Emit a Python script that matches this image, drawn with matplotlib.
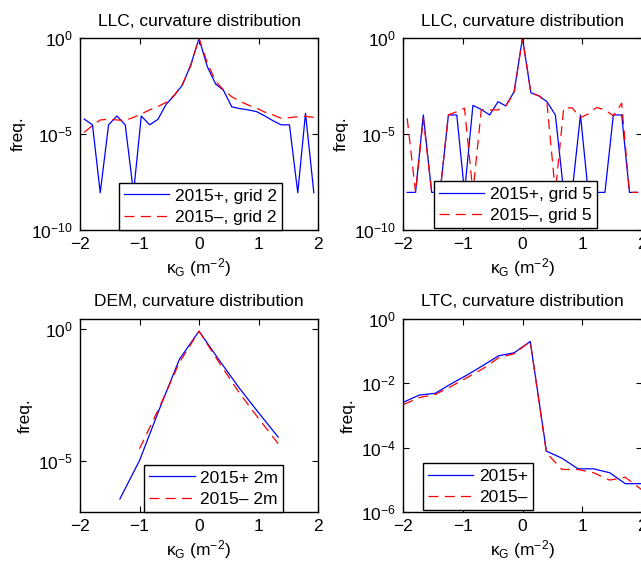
import numpy as np
import matplotlib
matplotlib.use('Agg')
import matplotlib.pyplot as plt
from matplotlib.ticker import NullLocator

plt.rcParams['font.family'] = ['Liberation Sans', 'DejaVu Sans']
plt.rcParams['mathtext.fontset'] = 'custom'
plt.rcParams['mathtext.rm'] = 'Liberation Sans'
plt.rcParams['mathtext.it'] = 'Liberation Sans:italic'
plt.rcParams['mathtext.bf'] = 'Liberation Sans:bold'
plt.rcParams['font.size'] = 12.5

# ---- LLC, grid 2 ----
k_llc = [-1.93, -1.79, -1.66, -1.52, -1.38, -1.24, -1.10, -0.97, -0.83, -0.69,
         -0.55, -0.41, -0.28, -0.14, 0.00, 0.14, 0.28, 0.41, 0.55, 0.69,
         0.83, 0.97, 1.10, 1.24, 1.38, 1.52, 1.66, 1.79, 1.93]
llc2_plus = [6.0e-5, 3.0e-5, 8.7e-9, 3.0e-5, 8.7e-5, 3.0e-5, 8.7e-9, 8.7e-5, 3.0e-5, 5.8e-5,
             3.6e-4, 1.07e-3, 3.5e-3, 3.9e-2, 0.93, 3.2e-2, 4.0e-3, 1.9e-3, 2.6e-4, 2.1e-4,
             1.8e-4, 1.45e-4, 8.9e-5, 5.0e-5, 3.0e-5, 3.0e-5, 8.7e-9, 1.2e-4, 8.7e-9]
llc2_minus = [1.2e-5, 2.8e-5, 5.4e-5, 5.8e-5, 5.4e-5, 5.0e-5, 7.4e-5, 1.1e-4, 1.8e-4, 2.7e-4,
              4.5e-4, 1.1e-3, 3.8e-3, 3.5e-2, 0.95, 5.0e-2, 5.6e-3, 2.0e-3, 8.7e-4, 5.0e-4,
              3.2e-4, 2.2e-4, 1.4e-4, 1.0e-4, 6.6e-5, 7.1e-5, 7.9e-5, 8.3e-5, 7.4e-5]

# ---- LLC, grid 5 ----
llc5_plus = [9.1e-9, 9.1e-9, 9.8e-5, 9.1e-9, 9.1e-9, 9.8e-5, 9.8e-5, 9.1e-9, 3.1e-4, 1.9e-4,
             9.8e-5, 4.8e-4, 2.9e-4, 1.6e-3, 1.0, 1.4e-3, 9.5e-4, 4.8e-4, 9.8e-5, 9.1e-9,
             9.1e-9, 9.8e-5, 9.1e-9, 9.1e-9, 9.1e-9, 9.8e-5, 9.8e-5, 9.1e-9, 9.1e-9]
llc5_minus = [6.6e-5, 9.1e-9, 6.6e-5, 9.1e-9, 9.1e-9, 1.0e-4, 1.45e-4, 2.2e-4, 9.1e-9, 1.8e-4,
              1.8e-4, 1.8e-4, 2.9e-4, 1.4e-3, 1.0, 1.4e-3, 9.5e-4, 4.0e-4, 9.1e-9, 2.3e-4,
              2.3e-4, 7.1e-5, 1.1e-4, 2.4e-4, 1.8e-4, 8.9e-5, 4.0e-4, 9.1e-9, 9.1e-9]

# ---- DEM ----
k_dem = [-1.33, -1.00, -0.67, -0.33, 0.00, 0.33, 0.67, 1.00, 1.33]
dem_plus = [3.5e-7, 1.0e-5, 8.5e-4, 6.9e-2, 0.81, 6.9e-2, 5.9e-3, 6.6e-4, 7.8e-5]
dem_minus = [np.nan, 2.8e-5, 1.0e-3, 5.2e-2, 0.81, 5.6e-2, 3.9e-3, 4.0e-4, 4.4e-5]

# ---- LTC ----
k_ltc = [-1.99, -1.73, -1.46, -1.20, -0.93, -0.67, -0.40, -0.14, 0.13, 0.40,
         0.66, 0.93, 1.19, 1.46, 1.72, 1.99]
ltc_plus = [2.6e-3, 4.3e-3, 4.9e-3, 9.5e-3, 1.8e-2, 3.5e-2, 7.2e-2, 8.9e-2, 0.20, 7.8e-5,
            4.7e-5, 2.2e-5, 2.2e-5, 1.66e-5, 7.6e-6, 7.6e-6]
ltc_minus = [2.2e-3, 3.6e-3, 4.5e-3, 7.9e-3, 1.5e-2, 2.8e-2, 6.2e-2, 8.3e-2, 0.20, 6.9e-5,
             2.1e-5, 2.1e-5, 1.66e-5, 9.8e-6, 1.2e-5, 5.0e-6]

W, H = 641, 574
fig = plt.figure(figsize=(W / 100, H / 100), dpi=100)


def make_ax(x0, y0, x1, y1):
    # pixel box (left, top, right, bottom) -> figure fraction
    return fig.add_axes([x0 / W, 1 - y1 / H, (x1 - x0) / W, (y1 - y0) / H])


def style(ax, title, ylim, yticks, legend_xy):
    ax.set_yscale('log')
    ax.set_xlim(-2, 2)
    ax.set_ylim(*ylim)
    ax.set_xticks([-2, -1, 0, 1, 2])
    ax.set_yticks(yticks)
    ax.yaxis.set_minor_locator(NullLocator())
    ax.tick_params(which='both', direction='in', top=True, right=True,
                   length=4, width=0.8, labelsize=12.5, pad=5)
    for s in ax.spines.values():
        s.set_linewidth(1.0)
    ax.set_title(title, fontsize=12.5, pad=9)
    ax.set_xlabel('κ$_\\mathrm{G}$ (m$^{-2}$)', fontsize=12.5, labelpad=3)
    ax.set_ylabel('freq.', fontsize=12.5, labelpad=4)
    leg = ax.legend(loc='lower left', bbox_to_anchor=legend_xy, borderaxespad=0,
                    fancybox=False, framealpha=1, edgecolor='k', fontsize=12.5,
                    handlelength=2.6, handletextpad=0.3, borderpad=0.3,
                    labelspacing=0.35)
    leg.get_frame().set_linewidth(1.0)


blue = dict(color='#0000ff', lw=0.9)
red = dict(color='#ff0000', lw=0.9, ls=(0, (8, 5)))

ax1 = make_ax(80, 38, 318, 230)
ax1.plot(k_llc, llc2_plus, label='2015+, grid 2', **blue)
ax1.plot(k_llc, llc2_minus, label='2015\u2013, grid 2', **red)
style(ax1, 'LLC, curvature distribution', (1e-10, 1), [1e-10, 1e-5, 1], (0.164, 0.0))

ax2 = make_ax(403, 38, 642, 230)
ax2.plot(k_llc, llc5_plus, label='2015+, grid 5', **blue)
ax2.plot(k_llc, llc5_minus, label='2015\u2013, grid 5', **red)
style(ax2, 'LLC, curvature distribution', (1e-10, 1), [1e-10, 1e-5, 1], (0.13, 0.01))

ax3 = make_ax(80, 319, 318, 512)
ax3.plot(k_dem, dem_plus, label='2015+ 2m', **blue)
ax3.plot(k_dem, dem_minus, label='2015\u2013 2m', **red)
style(ax3, 'DEM, curvature distribution', (10 ** -6.95, 10 ** 0.37), [1e-5, 1], (0.27, 0.0))

ax4 = make_ax(403, 319, 642, 512)
ax4.plot(k_ltc, ltc_plus, label='2015+', **blue)
ax4.plot(k_ltc, ltc_minus, label='2015\u2013', **red)
style(ax4, 'LTC, curvature distribution', (1e-6, 1), [1e-6, 1e-4, 1e-2, 1], (0.084, 0.01))

fig.savefig('out.png', dpi=100)
